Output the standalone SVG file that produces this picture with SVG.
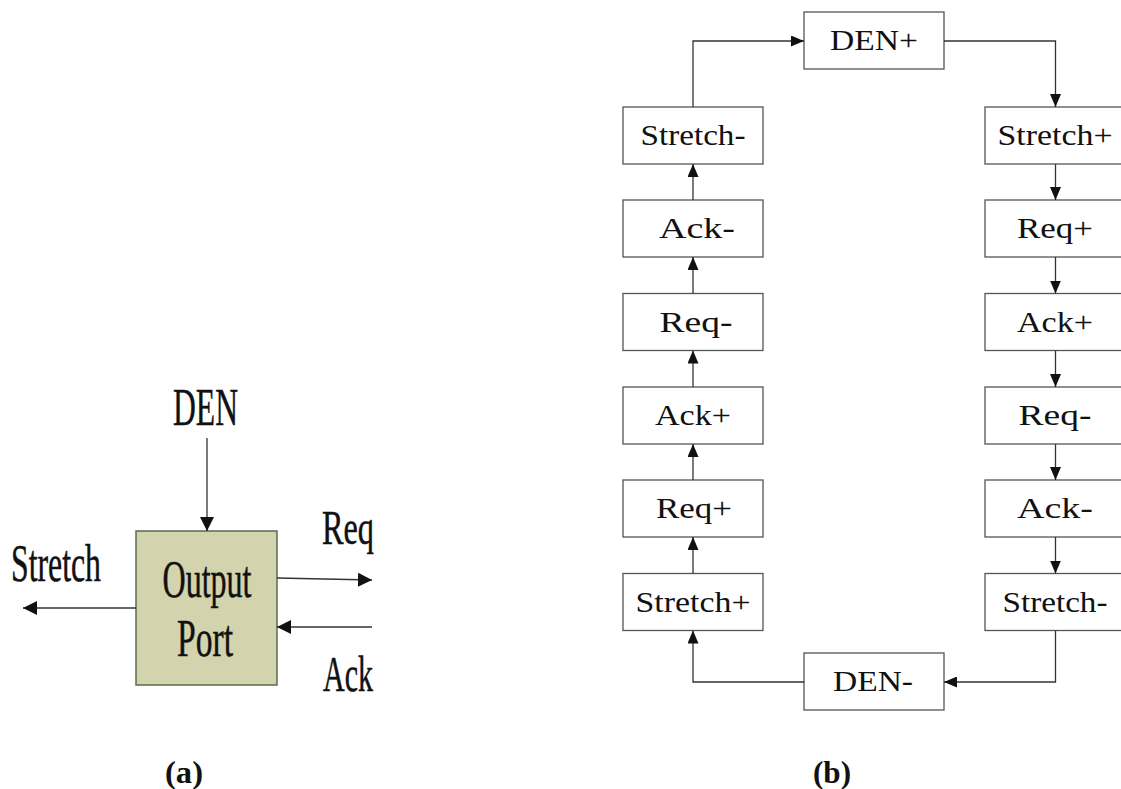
<svg xmlns="http://www.w3.org/2000/svg" width="1121" height="789" viewBox="0 0 1121 789">
  <style>
    .box { fill: #ffffff; stroke: #555555; stroke-width: 1.3; }
    .lbl { font-family: "Liberation Serif", "Times New Roman", serif; font-size: 29px; fill: #111111; text-anchor: middle; }
    .wire { fill: none; stroke: #333333; stroke-width: 1.3; marker-end: url(#tip); }
    .awire { fill: none; stroke: #333333; stroke-width: 1.3; marker-end: url(#bigtip); }
    .big { font-family: "Liberation Serif", "Times New Roman", serif; fill: #111111; stroke: #111111; stroke-width: 0.5; }
    .cap { font-family: "Liberation Serif", "Times New Roman", serif; font-weight: bold; font-size: 31px; fill: #111111; text-anchor: middle; }
  </style>
  <defs>
    <marker id="tip" viewBox="0 0 13 11" refX="13" refY="5.5" markerWidth="13" markerHeight="11" markerUnits="userSpaceOnUse" orient="auto">
      <path d="M0,0 L13,5.5 L0,11 Z" fill="#111111"/>
    </marker>
    <marker id="bigtip" viewBox="0 0 14 14" refX="14" refY="7" markerWidth="14" markerHeight="14" markerUnits="userSpaceOnUse" orient="auto">
      <path d="M0,0 L14,7 L0,14 Z" fill="#111111"/>
    </marker>
  </defs>
  <rect width="1121" height="789" fill="#ffffff"/>

  <!-- (a) output port block -->
  <g id="output-port">
    <rect x="136" y="531" width="141" height="154" fill="#d3d3ad" stroke="#5b6b4e" stroke-width="1.5"/>
    <text class="big" x="207" y="597" font-size="52" text-anchor="middle" textLength="89" lengthAdjust="spacingAndGlyphs">Output</text>
    <text class="big" x="205" y="656" font-size="52" text-anchor="middle" textLength="56" lengthAdjust="spacingAndGlyphs">Port</text>
  </g>
  <g id="port-labels">
    <text class="big" x="205.5" y="425" font-size="53" text-anchor="middle" textLength="65" lengthAdjust="spacingAndGlyphs">DEN</text>
    <text class="big" x="56" y="581" font-size="53" text-anchor="middle" textLength="90" lengthAdjust="spacingAndGlyphs">Stretch</text>
    <text class="big" x="348" y="544" font-size="49" text-anchor="middle" textLength="52" lengthAdjust="spacingAndGlyphs">Req</text>
    <text class="big" x="348" y="691" font-size="50" text-anchor="middle" textLength="50" lengthAdjust="spacingAndGlyphs">Ack</text>
  </g>
  <g id="port-connectors">
    <path class="awire" d="M207,438 L207,531"/>
    <path class="awire" d="M136,608 L23,608"/>
    <path class="awire" d="M277,578 L372,580"/>
    <path class="awire" d="M372,627 L277,627"/>
  </g>

  <!-- (b) handshake sequence -->
  <g id="den-plus"><rect class="box" x="804" y="12" width="140" height="57"/><text class="lbl" x="874" y="50" textLength="88" lengthAdjust="spacingAndGlyphs">DEN+</text></g>
  <g id="den-minus"><rect class="box" x="804" y="653" width="140" height="57"/><text class="lbl" x="873" y="691" textLength="80" lengthAdjust="spacingAndGlyphs">DEN-</text></g>

  <g id="l-stretch-minus"><rect class="box" x="623" y="107" width="140" height="57"/><text class="lbl" x="693" y="145" textLength="105" lengthAdjust="spacingAndGlyphs">Stretch-</text></g>
  <g id="l-ack-minus"><rect class="box" x="623" y="200" width="140" height="57"/><text class="lbl" x="697" y="238" textLength="76" lengthAdjust="spacingAndGlyphs">Ack-</text></g>
  <g id="l-req-minus"><rect class="box" x="623" y="293.5" width="140" height="57"/><text class="lbl" x="696" y="331.5" textLength="73" lengthAdjust="spacingAndGlyphs">Req-</text></g>
  <g id="l-ack-plus"><rect class="box" x="623" y="387" width="140" height="57"/><text class="lbl" x="693" y="425" textLength="76" lengthAdjust="spacingAndGlyphs">Ack+</text></g>
  <g id="l-req-plus"><rect class="box" x="623" y="480" width="140" height="57"/><text class="lbl" x="694" y="518" textLength="76" lengthAdjust="spacingAndGlyphs">Req+</text></g>
  <g id="l-stretch-plus"><rect class="box" x="623" y="573.5" width="140" height="57"/><text class="lbl" x="693" y="611.5" textLength="115" lengthAdjust="spacingAndGlyphs">Stretch+</text></g>

  <g id="r-stretch-plus"><rect class="box" x="985" y="107" width="140" height="57"/><text class="lbl" x="1055" y="145" textLength="115" lengthAdjust="spacingAndGlyphs">Stretch+</text></g>
  <g id="r-req-plus"><rect class="box" x="985" y="200" width="140" height="57"/><text class="lbl" x="1055" y="238" textLength="76" lengthAdjust="spacingAndGlyphs">Req+</text></g>
  <g id="r-ack-plus"><rect class="box" x="985" y="293.5" width="140" height="57"/><text class="lbl" x="1055" y="331.5" textLength="76" lengthAdjust="spacingAndGlyphs">Ack+</text></g>
  <g id="r-req-minus"><rect class="box" x="985" y="387" width="140" height="57"/><text class="lbl" x="1055" y="425" textLength="73" lengthAdjust="spacingAndGlyphs">Req-</text></g>
  <g id="r-ack-minus"><rect class="box" x="985" y="480" width="140" height="57"/><text class="lbl" x="1055" y="518" textLength="76" lengthAdjust="spacingAndGlyphs">Ack-</text></g>
  <g id="r-stretch-minus"><rect class="box" x="985" y="573.5" width="140" height="57"/><text class="lbl" x="1055" y="611.5" textLength="105" lengthAdjust="spacingAndGlyphs">Stretch-</text></g>

  <g id="sequence-connectors">
    <path class="wire" d="M693,107 L693,41 L804,41"/>
    <path class="wire" d="M944,41 L1055.5,41 L1055.5,107"/>
    <path class="wire" d="M1055.5,630.5 L1055.5,682 L944,682"/>
    <path class="wire" d="M804,682 L693,682 L693,630.5"/>
    <!-- left column runs upward -->
    <path class="wire" d="M693,573.5 L693,537"/>
    <path class="wire" d="M693,480 L693,444"/>
    <path class="wire" d="M693,387 L693,350.5"/>
    <path class="wire" d="M693,293.5 L693,257"/>
    <path class="wire" d="M693,200 L693,164"/>
    <!-- right column runs downward -->
    <path class="wire" d="M1055.5,164 L1055.5,200"/>
    <path class="wire" d="M1055.5,257 L1055.5,293.5"/>
    <path class="wire" d="M1055.5,350.5 L1055.5,387"/>
    <path class="wire" d="M1055.5,444 L1055.5,480"/>
    <path class="wire" d="M1055.5,537 L1055.5,573.5"/>
  </g>

  <g id="captions">
    <text class="cap" x="184" y="783" textLength="38" lengthAdjust="spacingAndGlyphs">(a)</text>
    <text class="cap" x="832" y="783" textLength="38" lengthAdjust="spacingAndGlyphs">(b)</text>
  </g>
</svg>
